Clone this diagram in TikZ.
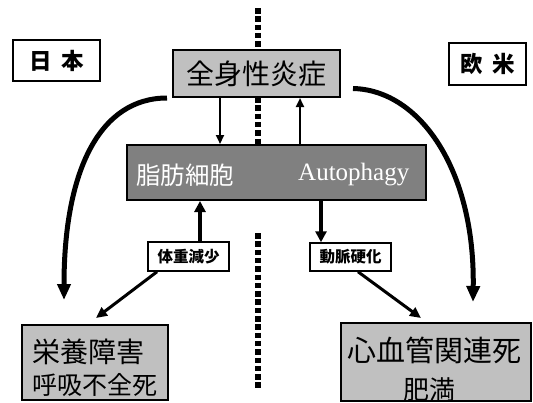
\documentclass[tikz,border=0pt]{standalone}
\usepackage{fontspec}
\usetikzlibrary{arrows.meta}
\newfontfamily\cjk{Noto Sans CJK JP}
\newfontfamily\cjkb{Noto Sans CJK JP Black}
\newfontfamily\serifx{Liberation Serif}
\definecolor{lgray}{HTML}{C0C0C0}
\definecolor{dgray}{HTML}{808080}
\tikzset{
  box/.style={draw=black, line width=2pt, inner sep=0pt},
  lbox/.style={box, fill=lgray},
  tag/.style={box, fill=white, font=\cjkb\fontsize{22.5}{24}\selectfont},
  small/.style={box, line width=1.5pt, fill=white, font=\cjkb\fontsize{15.5}{17}\selectfont},
  txt/.style={inner sep=0pt, anchor=center},
  thin/.style={line width=2.2pt, -{Triangle[length=9pt,width=8pt]}},
  thick/.style={line width=4pt, -{Triangle[length=11pt,width=11pt]}},
  diag/.style={line width=3pt, -{Triangle[length=11pt,width=10pt]}},
  curve/.style={line width=5pt, -{Triangle[length=16pt,width=13pt]}},
  dots/.style={line width=5.5pt, dash pattern=on 5.5pt off 2.8pt}
}
\begin{document}
\begin{tikzpicture}[x=1pt,y=-1pt]
\useasboundingbox (0,0) rectangle (533,402);
% dotted divider
\coordinate (d1) at (258,8);
\coordinate (d2) at (258,50);
\coordinate (d3) at (258,97);
\coordinate (d4) at (258,145);
\coordinate (d5) at (258,233);
\coordinate (d6) at (258,389);
\draw[dots] (d1) -- (d2);
\draw[dots] (d3) -- (d4);
\draw[dots] (d5) -- (d6);
% labels
\node[tag, minimum width=87pt, minimum height=41pt] (jp) at (56.5,60.5) {日\hspace{9pt}本};
\node[tag, minimum width=77pt, minimum height=42pt] (eu) at (487.5,64) {欧\hspace{9pt}米};
% top box
\node[lbox, minimum width=167pt, minimum height=47pt, font=\cjk\fontsize{28}{30}\selectfont] (inf) at (256.5,73.5) {全身性炎症};
% fat box
\node[box, fill=dgray, minimum width=299pt, minimum height=55pt] (fat) at (276.5,172.5) {};
\node[txt, anchor=west, text=white, font=\cjk\fontsize{24.5}{26}\selectfont] (fatt) at (136,175) {脂肪細胞};
\node[txt, anchor=west, text=white, font=\serifx\fontsize{25}{27}\selectfont] (auto) at (298,175) {Autophagy};
% small tags
\node[small, minimum width=81pt, minimum height=29pt] (wl) at (188.5,256.5) {体重減少};
\node[small, minimum width=81pt, minimum height=28pt] (ath) at (350.5,257) {動脈硬化};
% bottom boxes
\node[lbox, minimum width=146pt, minimum height=75pt] (mal) at (95,362.5) {};
\node[txt, font=\cjk\fontsize{28}{30}\selectfont] (malt1) at (88.5,352) {栄養障害};
\node[txt, font=\cjk\fontsize{25}{27}\selectfont] (malt2) at (94.5,385) {呼吸不全死};
\node[lbox, minimum width=190pt, minimum height=78pt] (cvd) at (436,362) {};
\node[txt, font=\cjk\fontsize{29}{31}\selectfont] (cvdt1) at (434.5,350) {心血管関連死};
\node[txt, font=\cjk\fontsize{26}{28}\selectfont] (cvdt2) at (429,390) {肥満};
% arrows
\draw[thin] (inf.south -| 220,0) -- (fat.north -| 220,0);
\draw[thin] (fat.north -| 300,0) -- (inf.south -| 300,0);
\draw[thick] (wl.north -| 200,0) -- (fat.south -| 200,0);
\draw[thick] (fat.south -| 321,0) -- (ath.north -| 321,0);
\coordinate (m1) at (96,318);
\coordinate (m2) at (421,318);
\draw[diag] (wl.south -| 157,0) -- (m1);
\draw[diag] (ath.south -| 358,0) -- (m2);
\coordinate (c1) at (64,300);
\coordinate (c2) at (473,302);
\draw[curve] (inf.south west) ++(-5,0) .. controls (100,98) and (64,170) .. (c1);
\draw[curve] (inf.east) ++(12,15) .. controls (420,90) and (475,170) .. (c2);
\end{tikzpicture}
\end{document}
